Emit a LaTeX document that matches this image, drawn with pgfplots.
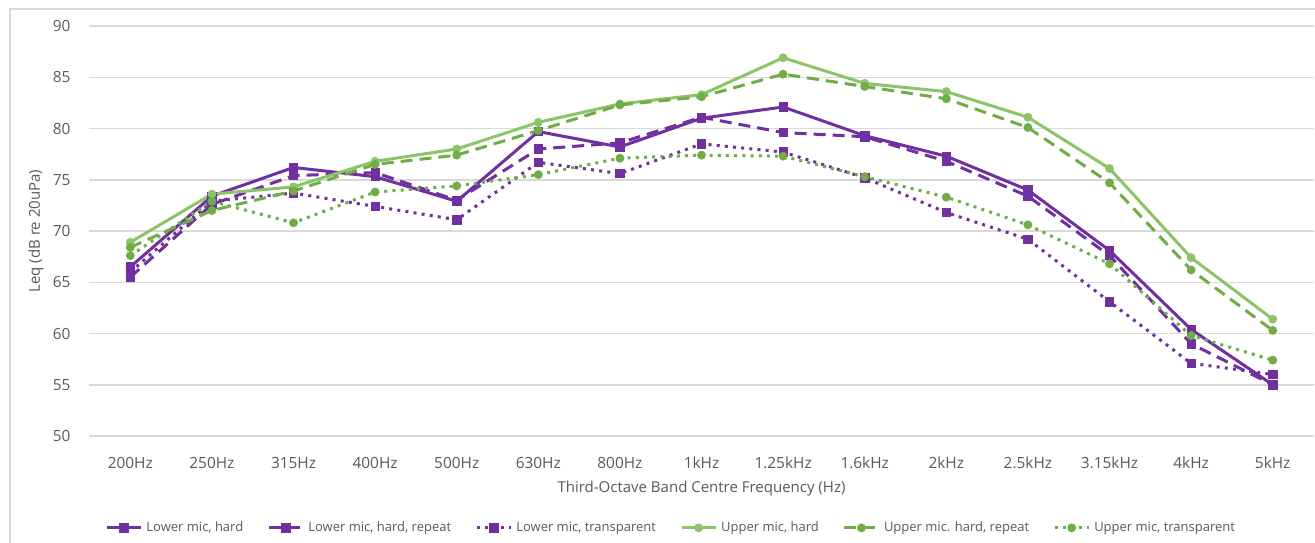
\documentclass[border=0pt]{standalone}
\usepackage{fontspec}
\setmainfont{Open Sans}
\usepackage{pgfplots}
\pgfplotsset{compat=1.18}
\definecolor{purp}{HTML}{7030A0}
\definecolor{grnA}{HTML}{8CC46A}
\definecolor{grnB}{HTML}{70AD47}
\definecolor{gridc}{HTML}{D9D9D9}
\definecolor{txt}{HTML}{595959}
\begin{document}
\begin{tikzpicture}
\useasboundingbox (-44.75pt,-53pt) rectangle (612.75pt,218pt);
\draw[gridc, line width=0.6pt] (-39.75pt,-60pt) -- (-39.75pt,213.5pt) -- (620pt,213.5pt);
\begin{axis}[
  at={(0,0)}, anchor=south west,
  width=612pt, height=205pt, scale only axis,
  xmin=-0.5, xmax=14.5, ymin=50, ymax=90,
  xtick={0,...,14},
  xticklabels={200Hz,250Hz,315Hz,400Hz,500Hz,630Hz,800Hz,1kHz,1.25kHz,1.6kHz,2kHz,2.5kHz,3.15kHz,4kHz,5kHz},
  ytick={50,55,...,90},
  ymajorgrids, major grid style={gridc, line width=0.75pt},
  axis line style={draw=none}, major tick length=0pt,
  /pgf/number format/assume math mode=true,
  tick label style={font=\fontsize{7.7}{9}\selectfont, text=txt},
  yticklabel style={xshift=-6pt},
  xticklabel style={yshift=-7pt},
  xlabel={Third-Octave Band Centre Frequency (Hz)},
  ylabel={Leq (dB re 20uPa)},
  label style={font=\fontsize{7.5}{9}\selectfont, text=txt},
  xlabel style={at={(axis description cs:0.5,0)}, anchor=center, yshift=-26.5pt},
  ylabel style={at={(axis description cs:-0.0437,0.5)}, anchor=center},
  legend columns=6,
  legend style={at={(0.476,-0.224)}, anchor=center, draw=none, fill=none,
    font=\fontsize{6.5}{8}\selectfont, text=txt,
    /tikz/every even column/.append style={column sep=10pt}},
  legend cell align=left,
  every axis plot/.append style={line width=1.5pt},
]
\addplot[purp, mark=square*, mark size=2.1pt, mark options={solid, line width=0.4pt}] coordinates {
(0,66.5)(1,73.4)(2,76.2)(3,75.3)(4,72.9)(5,79.7)(6,78.2)(7,81.0)(8,82.1)(9,79.3)(10,77.3)(11,74.0)(12,68.1)(13,60.4)(14,55.0)};
\addlegendentry{Lower mic, hard}
\addplot[purp, dash pattern=on 6pt off 3.5pt, mark=square*, mark size=2.1pt, mark options={solid, line width=0.4pt}] coordinates {
(0,65.5)(1,72.6)(2,75.4)(3,75.7)(4,73.0)(5,78.0)(6,78.6)(7,81.1)(8,79.6)(9,79.2)(10,76.8)(11,73.4)(12,67.6)(13,59.0)(14,55.0)};
\addlegendentry{Lower mic, hard, repeat}
\addplot[purp, dash pattern=on 1.5pt off 2.6pt, mark=square*, mark size=2.1pt, mark options={solid, line width=0.4pt}] coordinates {
(0,66.0)(1,72.9)(2,73.7)(3,72.4)(4,71.1)(5,76.7)(6,75.6)(7,78.5)(8,77.7)(9,75.2)(10,71.8)(11,69.2)(12,63.1)(13,57.1)(14,56.0)};
\addlegendentry{Lower mic, transparent}
\addplot[grnA, mark=*, mark size=2pt, mark options={solid, line width=0.4pt}] coordinates {
(0,68.9)(1,73.6)(2,74.3)(3,76.8)(4,78.0)(5,80.6)(6,82.4)(7,83.3)(8,86.9)(9,84.4)(10,83.6)(11,81.1)(12,76.1)(13,67.4)(14,61.4)};
\addlegendentry{Upper mic, hard}
\addplot[grnB, dash pattern=on 6pt off 3.5pt, mark=*, mark size=2pt, mark options={solid, line width=0.4pt}] coordinates {
(0,68.4)(1,72.0)(2,73.9)(3,76.5)(4,77.4)(5,79.8)(6,82.3)(7,83.1)(8,85.3)(9,84.1)(10,82.9)(11,80.1)(12,74.7)(13,66.2)(14,60.3)};
\addlegendentry{Upper mic. hard, repeat}
\addplot[grnB, dash pattern=on 1.5pt off 2.6pt, mark=*, mark size=2pt, mark options={solid, line width=0.4pt}] coordinates {
(0,67.6)(1,72.9)(2,70.8)(3,73.8)(4,74.4)(5,75.5)(6,77.1)(7,77.4)(8,77.3)(9,75.3)(10,73.3)(11,70.6)(12,66.8)(13,59.8)(14,57.4)};
\addlegendentry{Upper mic, transparent}
\end{axis}
\end{tikzpicture}
\end{document}
